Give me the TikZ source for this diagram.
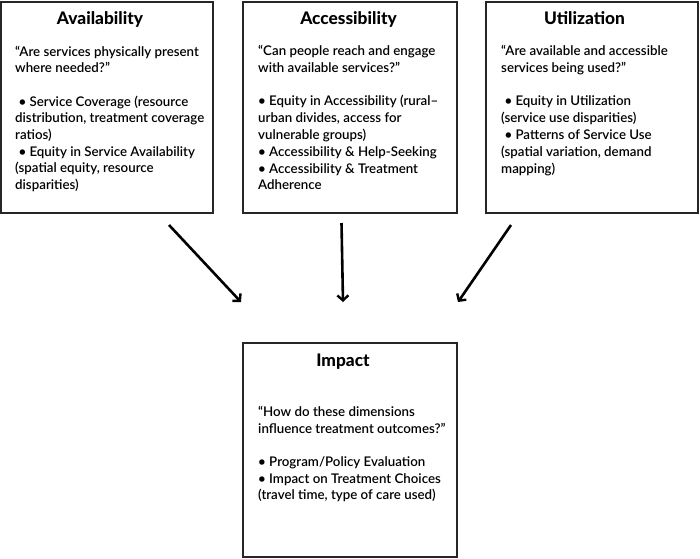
\documentclass[tikz,border=0pt]{standalone}
\usepackage{fontspec}
\setmainfont{Lato}
\newfontfamily\bodyfont{Lato Semibold}
\newfontfamily\titlefont{Lato Heavy}
\usetikzlibrary{arrows.meta}
\tikzset{
  boxframe/.style={draw=black!85, line width=1.6pt, fill=white},
  boxtitle/.style={anchor=base, inner sep=0pt, font=\titlefont\fontsize{17.3}{19}\selectfont},
  bodyline/.style={anchor=base west, inner sep=0pt, font=\bodyfont\fontsize{13.3}{15}\selectfont},
  flowarrow/.style={line width=2.6pt, -{Straight Barb[length=5pt,width=11pt,line width=2.4pt]}}
}
\begin{document}
\begin{tikzpicture}[x=1pt,y=-1pt]
\useasboundingbox (0,0) rectangle (700,558);
% boxes
\draw[boxframe] (1,2) rectangle (213,213);
\draw[boxframe] (243,2) rectangle (457,213);
\draw[boxframe] (486,2) rectangle (698,213);
\draw[boxframe] (243,343) rectangle (457,557);
% titles
\node[boxtitle] (tA) at (100,24) {Availability};
\node[boxtitle] (tB) at (348.5,24) {Accessibility};
\node[boxtitle] (tC) at (584.5,24) {Utilization};
\node[boxtitle] (tD) at (343,366) {Impact};
% Availability text
\node[bodyline] (a1) at (15,56) {“Are services physically present};
\node[bodyline] (a2) at (15,72) {where needed?”};
\node[bodyline] (a3) at (15,106) {\ • Service Coverage (resource};
\node[bodyline] (a4) at (15,122) {distribution, treatment coverage};
\node[bodyline] (a5) at (15,139) {ratios)};
\node[bodyline] (a6) at (15,156) {\ • Equity in Service Availability};
\node[bodyline] (a7) at (15,172) {(spatial equity, resource};
\node[bodyline] (a8) at (15,189) {disparities)};
% Accessibility text
\node[bodyline] (b1) at (258,55) {“Can people reach and engage};
\node[bodyline] (b2) at (258,72) {with available services?”};
\node[bodyline] (b3) at (258,105) {• Equity in Accessibility (rural–};
\node[bodyline] (b4) at (258,122) {urban divides, access for};
\node[bodyline] (b5) at (258,139) {vulnerable groups)};
\node[bodyline] (b6) at (258,156) {• Accessibility \& Help-Seeking};
\node[bodyline] (b7) at (258,173) {• Accessibility \& Treatment};
\node[bodyline] (b8) at (258,189) {Adherence};
% Utilization text
\node[bodyline] (c1) at (501,55) {“Are available and accessible};
\node[bodyline] (c2) at (501,72) {services being used?”};
\node[bodyline] (c3) at (501,105) {\ • Equity in Utilization};
\node[bodyline] (c4) at (501,122) {(service use disparities)};
\node[bodyline] (c5) at (501,139) {\ • Patterns of Service Use};
\node[bodyline] (c6) at (501,156) {(spatial variation, demand};
\node[bodyline] (c7) at (501,173) {mapping)};
% Impact text
\node[bodyline] (d1) at (258,416) {“How do these dimensions};
\node[bodyline] (d2) at (258,433) {influence treatment outcomes?”};
\node[bodyline] (d3) at (258,466) {• Program/Policy Evaluation};
\node[bodyline] (d4) at (258,483) {• Impact on Treatment Choices};
\node[bodyline] (d5) at (258,499) {(travel time, type of care used)};
% arrows
\coordinate (sA) at (169,225);
\coordinate (eA) at (241,302);
\coordinate (sB) at (341.5,223);
\coordinate (eB) at (343,302);
\coordinate (sC) at (511,225);
\coordinate (eC) at (458,302);
\draw[flowarrow] (sA) -- (eA);
\draw[flowarrow] (sB) -- (eB);
\draw[flowarrow] (sC) -- (eC);
\end{tikzpicture}
\end{document}
